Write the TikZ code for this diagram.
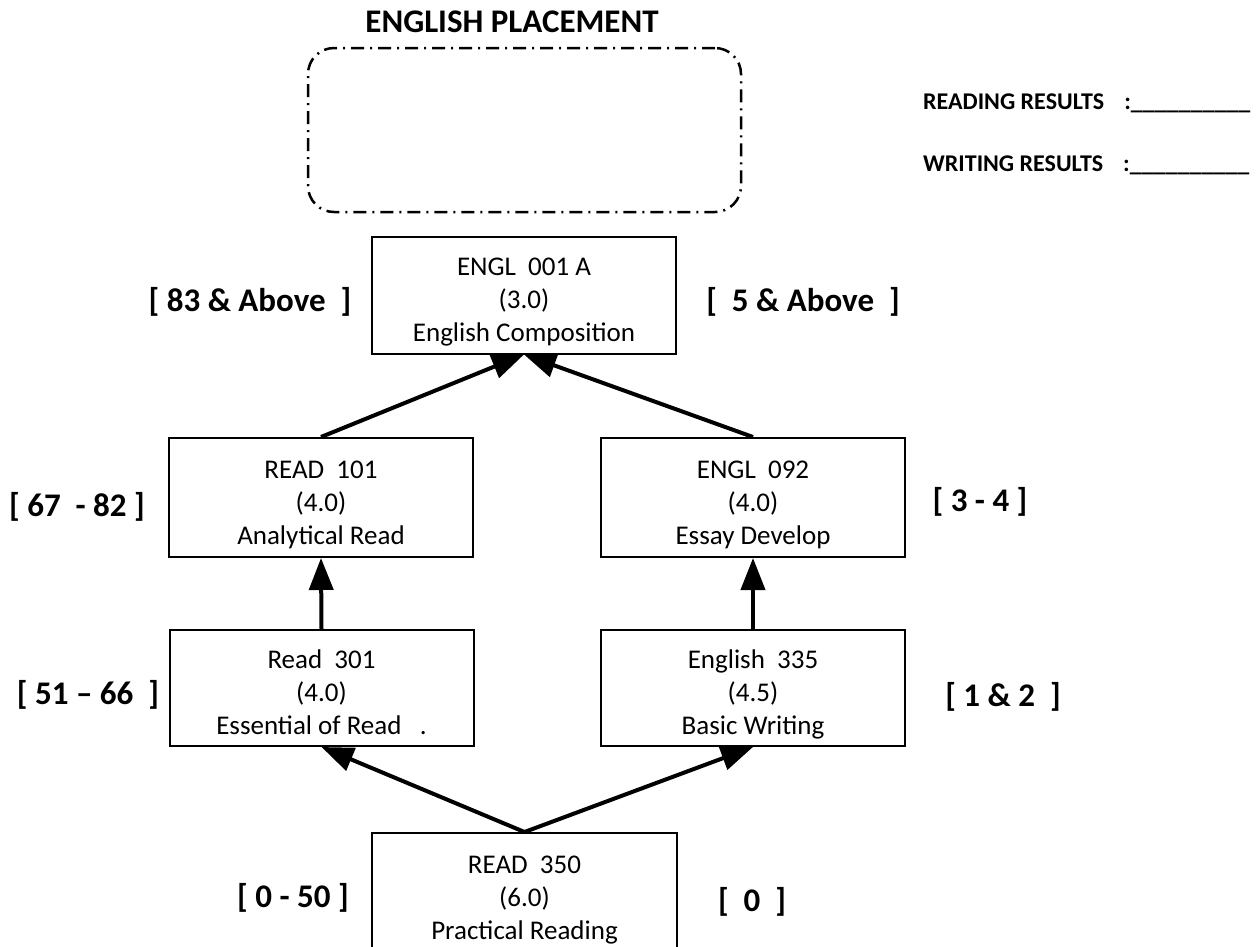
\documentclass[tikz,border=0pt]{standalone}
\usepackage{fontspec}
\setmainfont{Carlito}
\usetikzlibrary{arrows.meta,positioning}
\newcommand{\lineup}{\rule{0pt}{27pt}}
\tikzset{
  course/.style = {draw=black, line width=2pt, align=center, inner sep=0pt,
                   minimum width=304pt, minimum height=117pt, text depth=0pt,
                   font=\fontsize{27}{33}\selectfont},
  score/.style  = {inner sep=0pt, font=\bfseries\fontsize{33}{38}\selectfont},
  ttl/.style    = {inner sep=0pt, font=\bfseries\fontsize{33}{38}\selectfont},
  res/.style    = {inner sep=0pt, anchor=west, font=\bfseries\fontsize{24}{28}\selectfont},
  dashbox/.style = {draw=black, line width=2.5pt, rounded corners=26pt,
                   dash pattern=on 13pt off 6pt on 2pt off 6pt,
                   minimum width=433pt, minimum height=164pt},
  arr/.style    = {-{Triangle[length=32pt,width=24pt]}, draw=black, line width=4pt},
}

\begin{document}
\begin{tikzpicture}[x=1pt, y=-1pt]
  \useasboundingbox (0,0) rectangle (1256,946);
  % heading and result lines
  \node[ttl] (title) at (512,22) {ENGLISH PLACEMENT};
  \node[dashbox] (place) at (524.5,130) {};
  \node[res] (rdres) at (923,103) {READING RESULTS\hspace{20pt}:\_\_\_\_\_\_\_\_\_\_};
  \node[res] (wrres) at (923,165) {WRITING RESULTS\hspace{20pt}:\_\_\_\_\_\_\_\_\_\_};
  % course boxes
  \node[course] (e001) at (524,295) {\lineup ENGL\ \ 001 A\\(3.0)\\English Composition};
  \node[course, minimum height=119pt] (r101) at (321,497.5) {\lineup READ\ \ 101\\(4.0)\\Analytical Read};
  \node[course, minimum height=119pt] (e092) at (753,497.5) {\lineup ENGL\ \ 092\\(4.0)\\Essay Develop};
  \node[course, minimum height=116pt] (r301) at (321.5,688) {\lineup Read\ \ 301\\(4.0)\\Essential of Read\ \ \ .};
  \node[course, minimum height=116pt] (e335) at (753,688) {\lineup English\ \ 335\\(4.5)\\Basic Writing};
  \node[course, minimum width=305pt, minimum height=120pt] (r350) at (524.5,893) {\lineup READ\ \ 350\\(6.0)\\Practical Reading};
  % score ranges
  \node[score] (s83)  at (250,302) {[ 83 \& Above\ \ ]};
  \node[score] (s5)   at (803,302) {[\ \ 5 \& Above\ \ ]};
  \node[score] (s67)  at (77,507)  {[ 67\ \ - 82 ]};
  \node[score] (s3)   at (980,502) {[ 3 - 4 ]};
  \node[score] (s51)  at (88,695)  {[ 51 – 66\ \ ]};
  \node[score] (s1)   at (1003,697) {[ 1 \& 2\ \ ]};
  \node[score] (s0a)  at (293,898) {[ 0 - 50 ]};
  \node[score] (s0b)  at (752,902) {[\ \ 0\ \ ]};
  % arrows
  \draw[arr] (r101.north) -- (e001.south);
  \draw[arr] (e092.north) -- (e001.south);
  \draw[arr] (r301.north) -- (r101.south);
  \draw[arr] (e335.north) -- (e092.south);
  \draw[arr] (r350.north) -- (r301.south);
  \draw[arr] (r350.north) -- (e335.south);
\end{tikzpicture}
\end{document}
